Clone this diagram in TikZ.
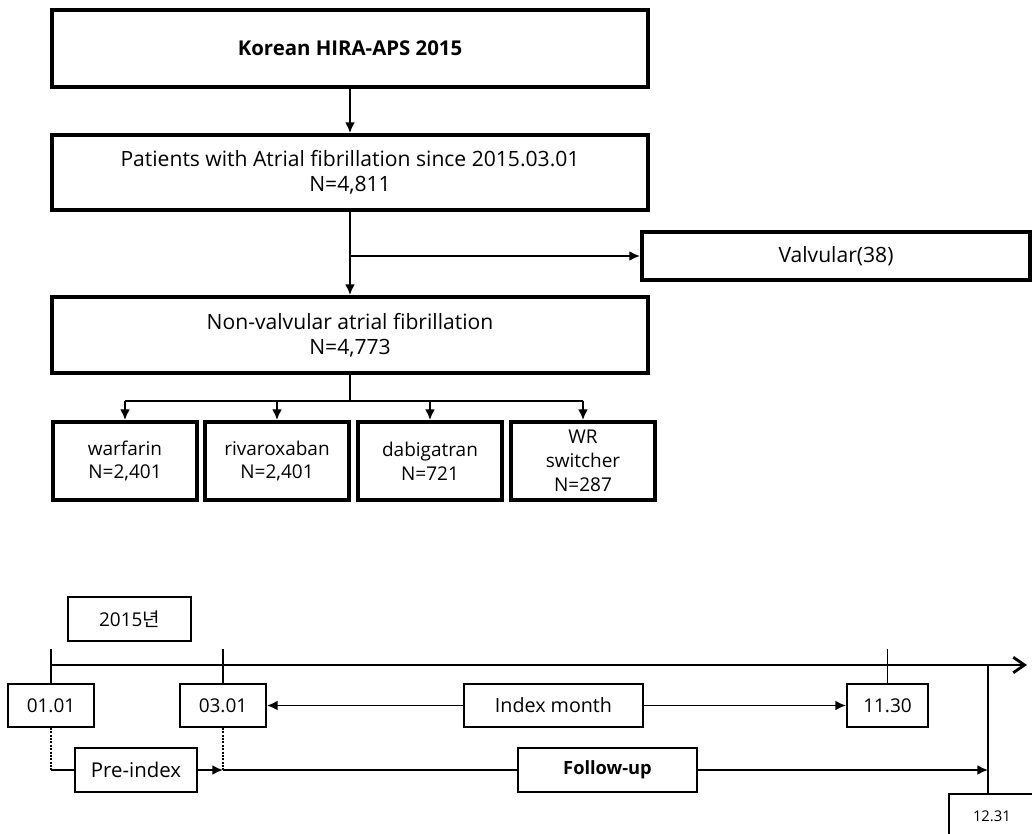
\documentclass[tikz,border=0pt]{standalone}
\usepackage{fontspec}
\setmainfont{Open Sans}
\newfontfamily\krfont{Noto Sans CJK KR}
\usetikzlibrary{arrows.meta}

\begin{document}
\begin{tikzpicture}[x=0.025cm, y=-0.025cm, font=\fontsize{15}{18}\selectfont,
  Block/.style={draw, line width=2.8pt, align=center, inner sep=0pt},
  Drug/.style={Block, minimum width=3.6cm, minimum height=1.95cm, font=\fontsize{13.5}{17}\selectfont},
  Date/.style={draw, line width=1.4pt, align=center, inner sep=0pt, minimum height=1.075cm,
               font=\fontsize{13.5}{16}\selectfont},
  Link/.style={-{Latex[length=7.5pt, width=7pt]}, line width=1.4pt},
  Plain/.style={line width=1.4pt},
  Dots/.style={line width=1.4pt, densely dotted}]

\useasboundingbox (0,0) rectangle (1032,834);
\clip (0,0) rectangle (1032,834);

% flow chart
\node [Block, minimum width=14.9cm, minimum height=1.925cm, font=\fontsize{14.5}{18}\selectfont\bfseries] (hira) at (350, 48.5) {Korean HIRA-APS 2015};
\node [Block, minimum width=14.9cm, minimum height=1.875cm] (patients) at (350, 172.5) {Patients with Atrial fibrillation since 2015.03.01\\N=4,811};
\node [Block, minimum width=9.7cm, minimum height=1.2cm] (valvular) at (836, 256) {Valvular(38)};
\node [Block, minimum width=14.9cm, minimum height=1.9cm] (nonvalv) at (350, 335) {Non-valvular atrial fibrillation\\N=4,773};

\foreach \pos/\name/\text in {125/warfarin/{warfarin\\N=2,401}, 277/rivaroxaban/{rivaroxaban\\N=2,401},
                              430/dabigatran/{dabigatran\\N=721}, 583/switcher/{WR\\switcher\\N=287}} {
  \node [Drug] (\name) at (\pos, 461) {\text};
}

\draw [Link] (hira) -- (patients);
\draw [Link] (patients) -- (nonvalv);
\draw [Link] (patients.south |- valvular.west) -- (valvular.west);

\draw [Plain] (nonvalv.south) -- ++(0, 26) coordinate (split);
\draw [Plain] (split -| warfarin) -- (split -| switcher);
\foreach \name in {warfarin, rivaroxaban, dabigatran, switcher} {
  \draw [Link] (split -| \name) -- (\name.north);
}

% time line
\node [Date, minimum width=3.075cm, minimum height=1.1cm] (year) at (129.5, 619) {2015{\krfont 년}};

\coordinate (axstart) at (50, 665);
\coordinate (axend) at (1027, 665);
\coordinate (yearend) at (988, 665);
\draw [-{Straight Barb[length=8pt, width=11pt]}, line width=2pt] (axstart) -- (axend);

\node [Date, minimum width=2.15cm] (d0101) at (51, 705.5) {01.01};
\node [Date, minimum width=2.15cm] (d0301) at (223, 705.5) {03.01};
\node [Date, minimum width=4.475cm, font=\fontsize{14}{16}\selectfont] (index) at (553.5, 705.5) {Index month};
\node [Date, minimum width=2.025cm] (d1130) at (887.5, 705.5) {11.30};
\node [Date, anchor=north west, inner xsep=0.6cm, text width=1.8cm, align=left, minimum height=1.1cm,
       font=\fontsize{10.5}{12}\selectfont] (d1231) at (948, 793) {12.31};

\foreach \name in {d0101, d0301, d1130} {
  \draw [Plain] (\name.north) -- ++(0, -34);
}

\draw [Link] (index) -- (d0301);
\draw [Link] (index) -- (d1130);

\node [Date, minimum width=3.05cm, minimum height=1.1cm, font=\fontsize{14.5}{16}\selectfont] (pre) at (136, 770) {Pre-index};
\node [Date, minimum width=4.475cm, minimum height=1.1cm, font=\fontsize{13}{16}\selectfont\bfseries] (follow) at (607.5, 770) {Follow-up};

\draw [Dots] (d0101.south) -- (d0101.south |- pre.west);
\draw [Plain] (d0101.south |- pre.west) -- (pre.west);
\draw [Link] (pre.east) -- (d0301.south |- pre.east);
\draw [Dots] (d0301.south) -- (d0301.south |- pre.east);
\draw [Plain] (d0301.south |- follow.west) -- (follow.west);
\draw [Plain] (yearend) -- (yearend |- d1231.north);
\draw [Link] (follow.east) -- (yearend |- follow.east);
\end{tikzpicture}
\end{document}
